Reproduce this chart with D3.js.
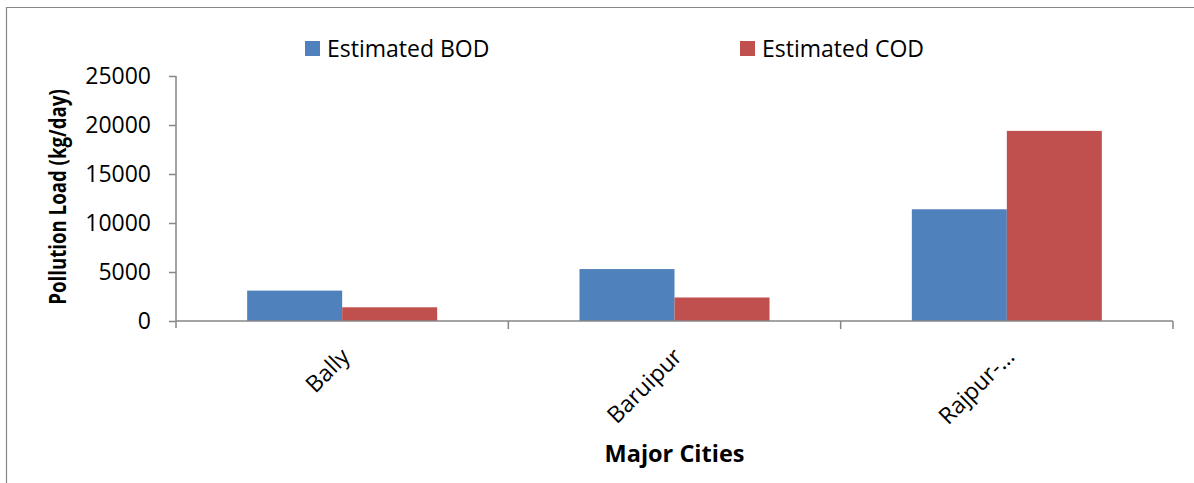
<!DOCTYPE html>
<html>
<head>
<meta charset="utf-8">
<script src="https://cdn.jsdelivr.net/npm/d3@7"></script>
<style>
  html, body { margin: 0; padding: 0; background: #fff; overflow: hidden; }
  svg { display: block; }
  text { font-family: "Open Sans", "Noto Sans", sans-serif; fill: #000; }
</style>
</head>
<body>
<svg id="chart" width="1194" height="483"></svg>
<script>
// Pollution load per city (kg/day)
const cities = ["Bally", "Baruipur", "Rajpur-\u2026"];
const seriesNames = ["Estimated BOD", "Estimated COD"];
const bodValues = [3100, 5300, 11400];
const codValues = [1400, 2400, 19400];
const yTicks = [0, 5000, 10000, 15000, 20000, 25000];
const seriesColors = ["#4F81BD", "#C0504D"];

const svg = d3.select("#chart");
const axisColor = "#868686";

// chart frame (runs past the right and bottom edges)
svg.append("path")
  .attr("d", "M6.5,483 V7.5 H1194")
  .attr("fill", "none")
  .attr("stroke", axisColor).attr("stroke-width", 1.2);

const plot = { left: 176, right: 1173, top: 76, bottom: 321 };

const x = d3.scaleBand()
  .domain(cities)
  .range([plot.left, plot.right])
  .paddingInner(0).paddingOuter(0);

const xSub = d3.scaleBand()
  .domain(seriesNames)
  .range([0, x.bandwidth()])
  .paddingInner(0).paddingOuter(0.749);

const y = d3.scaleLinear()
  .domain([0, 25000])
  .range([plot.bottom, plot.top]);

const rows = cities.map((c, i) => ({
  city: c,
  values: [
    { name: seriesNames[0], value: bodValues[i], color: seriesColors[0] },
    { name: seriesNames[1], value: codValues[i], color: seriesColors[1] }
  ]
}));

// bars
const groups = svg.append("g").selectAll("g")
  .data(rows).join("g")
  .attr("transform", d => `translate(${x(d.city)},0)`);

groups.selectAll("rect")
  .data(d => d.values).join("rect")
  .attr("x", d => xSub(d.name))
  .attr("width", xSub.bandwidth())
  .attr("y", d => y(d.value))
  .attr("height", d => y(0) - y(d.value))
  .attr("fill", d => d.color);

// y axis
const yAxis = d3.axisLeft(y)
  .tickValues(yTicks)
  .tickSize(7)
  .tickPadding(18)
  .tickFormat(d3.format("d"));

const gy = svg.append("g")
  .attr("transform", `translate(${plot.left},0)`)
  .call(yAxis);
gy.select(".domain").remove();
gy.selectAll(".tick line").attr("stroke", axisColor).attr("stroke-width", 1.5);
gy.selectAll(".tick text")
  .attr("font-size", "23px")
  .attr("font-family", "'Open Sans', sans-serif")
  .attr("fill", "#000");
gy.append("line")
  .attr("x1", 0).attr("x2", 0)
  .attr("y1", y(25000)).attr("y2", plot.bottom + 7)
  .attr("stroke", axisColor).attr("stroke-width", 1.5);

// x axis with ticks on category boundaries
const gx = svg.append("g");
gx.append("line")
  .attr("x1", plot.left).attr("x2", plot.right)
  .attr("y1", y(0)).attr("y2", y(0))
  .attr("stroke", axisColor).attr("stroke-width", 1.5);
const boundaries = cities.map(c => x(c) + x.bandwidth());
gx.selectAll("line.tick")
  .data(boundaries).join("line")
  .attr("class", "tick")
  .attr("x1", d => d).attr("x2", d => d)
  .attr("y1", y(0)).attr("y2", y(0) + 8)
  .attr("stroke", axisColor).attr("stroke-width", 1.5);

// rotated category labels
gx.selectAll("text.cat")
  .data(cities).join("text")
  .attr("class", "cat")
  .attr("transform", d => `translate(${x(d) + x.bandwidth() / 2 + 9},${plot.bottom + 37}) rotate(-45)`)
  .attr("text-anchor", "end")
  .attr("font-size", "23px")
  .text(d => d);

// axis titles
svg.append("text")
  .attr("transform", `translate(66,197) rotate(-90) scale(0.83,1)`)
  .attr("text-anchor", "middle")
  .attr("font-size", "22.5px")
  .attr("font-weight", "bold")
  .text("Pollution Load (kg/day)");

svg.append("text")
  .attr("x", 674.5).attr("y", 462)
  .attr("text-anchor", "middle")
  .attr("font-size", "23.5px")
  .attr("font-weight", "bold")
  .text("Major Cities");

// legend
const legendX = [305, 740];
const legend = svg.append("g").selectAll("g")
  .data(seriesNames).join("g")
  .attr("transform", (d, i) => `translate(${legendX[i]},41)`);
legend.append("rect")
  .attr("width", 15).attr("height", 15)
  .attr("fill", (d, i) => seriesColors[i]);
legend.append("text")
  .attr("x", 22).attr("y", 16)
  .attr("font-size", "23px")
  .text(d => d);
</script>
</body>
</html>
